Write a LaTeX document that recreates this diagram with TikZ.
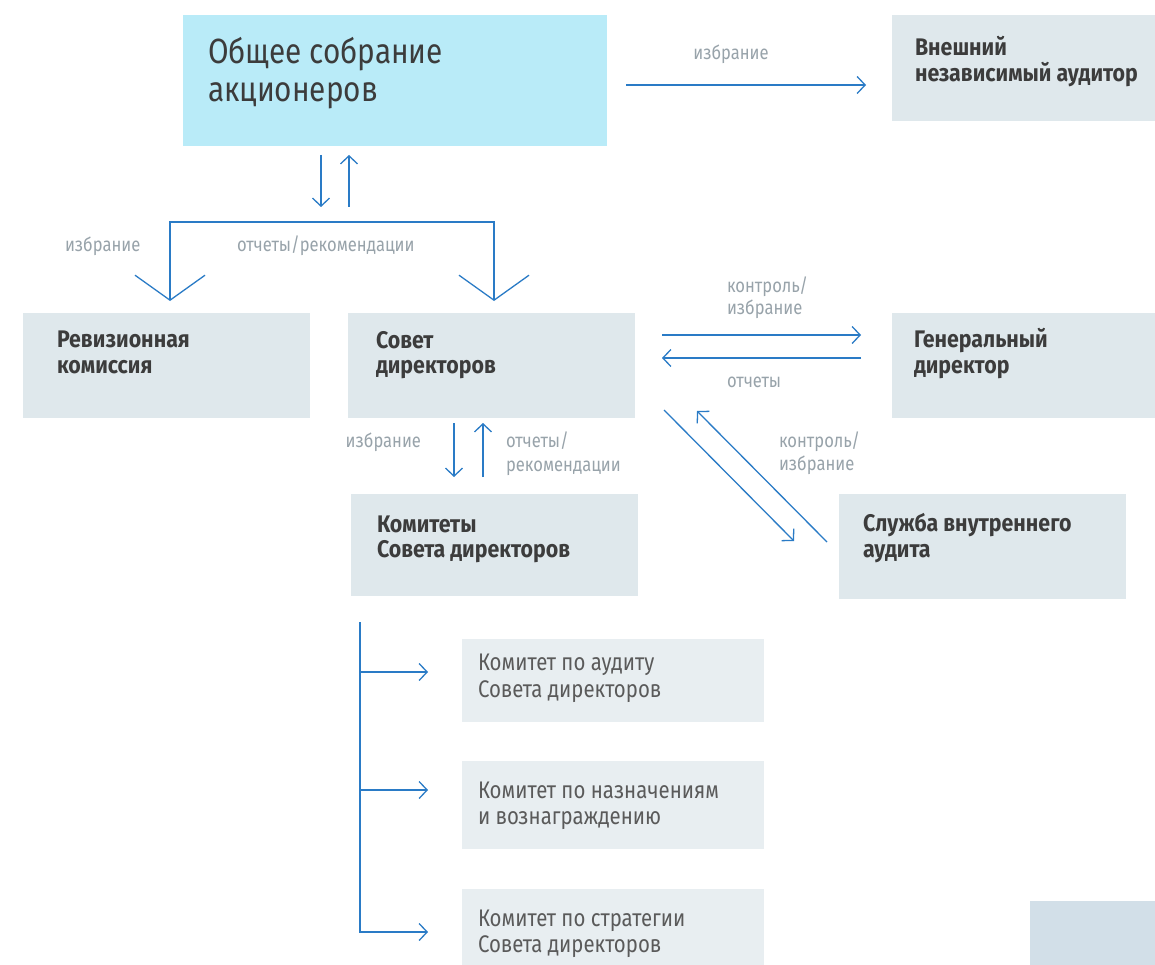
\documentclass[tikz,border=0pt]{standalone}
\usepackage{fontspec}
\setmainfont{Fira Sans}[FakeStretch=0.85, BoldFeatures={FakeStretch=0.89}]
\usetikzlibrary{arrows.meta,calc}
\definecolor{cyanbox}{HTML}{B9EBF8}
\definecolor{graybox}{HTML}{DFE8EC}
\definecolor{lightbox}{HTML}{E8EEF1}
\definecolor{decobox}{HTML}{D2DFE8}
\definecolor{arrowblue}{HTML}{2A7BC6}
\definecolor{lblgray}{HTML}{98A3AA}
\definecolor{darktxt}{HTML}{3C3C3C}
\definecolor{komtxt}{HTML}{5A5A5A}
\newcommand\twoln[3]{\vtop{\baselineskip=#3\lineskiplimit=-30pt\hbox{#1}\hbox{#2}}}
\begin{document}
\begin{tikzpicture}[x=1pt,y=-1pt,
  box/.style={draw=none, inner sep=0pt, outer sep=0pt, anchor=north west},
  mainbox/.style={box, fill=graybox},
  kombox/.style={box, fill=lightbox, minimum width=302pt},
  txt/.style={inner sep=0pt, outer sep=0pt, anchor=base west},
  boldtxt/.style={txt, font=\fontsize{24}{26}\selectfont\bfseries, text=darktxt},
  komtext/.style={txt, font=\fontsize{24}{27}\selectfont, text=komtxt},
  lbl/.style={txt, font=\fontsize{19.5}{23}\selectfont, text=lblgray},
  arr/.style={draw=arrowblue, line width=1.3pt, -{Straight Barb[length=8pt,width=17pt]}},
  bigarr/.style={draw=arrowblue, line width=1.3pt, {Straight Barb[length=25pt,width=70pt]}-{Straight Barb[length=25pt,width=70pt]}}
]
\useasboundingbox (0,0) rectangle (1155,965);
\fill[white] (0,0) rectangle (1155,965);

% boxes
\node[box, fill=cyanbox, minimum width=424pt, minimum height=131pt] (obshee) at (183,15) {};
\node[mainbox, minimum width=263pt, minimum height=106pt] (aud) at (892,15) {};
\node[mainbox, minimum width=287pt, minimum height=105pt] (rev) at (23,313) {};
\node[mainbox, minimum width=287pt, minimum height=105pt] (sovet) at (348,313) {};
\node[mainbox, minimum width=263pt, minimum height=105pt] (gen) at (892,313) {};
\node[mainbox, minimum width=287pt, minimum height=102pt] (kom) at (351,494) {};
\node[mainbox, minimum width=287pt, minimum height=105pt] (sluzh) at (839,494) {};
\node[kombox, minimum height=83pt] (k1) at (462,639) {};
\node[kombox, minimum height=88pt] (k2) at (462,761) {};
\node[kombox, minimum height=76pt] (k3) at (462,889) {};
\node[box, fill=decobox, minimum width=125pt, minimum height=64pt] (deco) at (1030,901) {};

% box texts
\node[txt, font=\fontsize{35}{38}\selectfont, text=darktxt] (tobshee) at (208,64) {\twoln{Общее собрание}{акционеров}{38pt}};
\node[boldtxt] (taud) at (915,56) {\twoln{Внешний}{независимый аудитор}{26pt}};
\node[boldtxt] (trev) at (57,347) {\twoln{Ревизионная}{комиссия}{26pt}};
\node[boldtxt] (tsovet) at (376,348) {\twoln{Совет}{директоров}{25pt}};
\node[boldtxt] (tgen) at (914,347) {\twoln{Генеральный}{директор}{26pt}};
\node[boldtxt] (tkom) at (377,532) {\twoln{Комитеты}{Совета директоров}{25pt}};
\node[boldtxt] (tsluzh) at (863,531) {\twoln{Служба внутреннего}{аудита}{26pt}};
\node[komtext] (tk1) at (478,670) {\twoln{Комитет по аудиту}{Совета директоров}{27pt}};
\node[komtext] (tk2) at (478,798) {\twoln{Комитет по назначениям}{и вознаграждению}{26pt}};
\node[komtext] (tk3) at (478,926) {\twoln{Комитет по стратегии}{Совета директоров}{26pt}};

% labels
\node[lbl, anchor=base] (l1) at (731,60) {избрание};
\node[lbl] (l2) at (65,252) {избрание};
\node[lbl] (l3) at (237,252) {отчеты/рекомендации};
\node[lbl] (l4) at (727,292) {\twoln{контроль/}{избрание}{22pt}};
\node[lbl] (l5) at (727,387) {отчеты};
\node[lbl] (l6) at (779,447) {\twoln{контроль/}{избрание}{23pt}};
\node[lbl, anchor=base east] (l7) at (421,447) {избрание};
\node[lbl] (l8) at (506,447) {\twoln{отчеты/}{рекомендации}{24pt}};

% connectors
\draw[arr] ($(obshee.east)+(19,4.5)$) -- ($(obshee.east -| aud.west)+(-26,4.5)$);
\draw[arr] ($(obshee.south)+(-74,9)$) -- ++(0,52);
\draw[arr] ($(obshee.south)+(-46,61)$) -- ++(0,-52);
\coordinate (bar) at (332,222);
\draw[bigarr] ($(rev.north)+(3.5,-12)$) |- (bar) -| ($(sovet.north)+(2.5,-12)$);
\draw[arr] ($(sovet.east)+(27,-30.5)$) -- ($(gen.west)+(-31,-30.5)$);
\draw[arr] ($(gen.west)+(-31,-7.5)$) -- ($(sovet.east)+(27,-7.5)$);
\draw[arr] ($(sovet.south east)+(29,-8)$) -- ($(sluzh.north west)+(-45,47)$);
\draw[arr] ($(sluzh.north west)+(-12,48)$) -- ($(sovet.south east)+(62,-7)$);
\draw[arr] ($(sovet.south)+(-37.5,5)$) -- ++(0,54);
\draw[arr] ($(sovet.south)+(-8.5,59)$) -- ++(0,-54);
\coordinate (trunk) at ($(kom.south west)+(9,26)$);
\draw[arr] (trunk) |- ($(k3.west)+(-34,5)$);
\draw[arr] ($(trunk |- k1.west)+(0,-8.5)$) -- ($(k1.west)+(-34,-8.5)$);
\draw[arr] ($(trunk |- k2.west)+(0,-15)$) -- ($(k2.west)+(-34,-15)$);
\end{tikzpicture}
\end{document}
